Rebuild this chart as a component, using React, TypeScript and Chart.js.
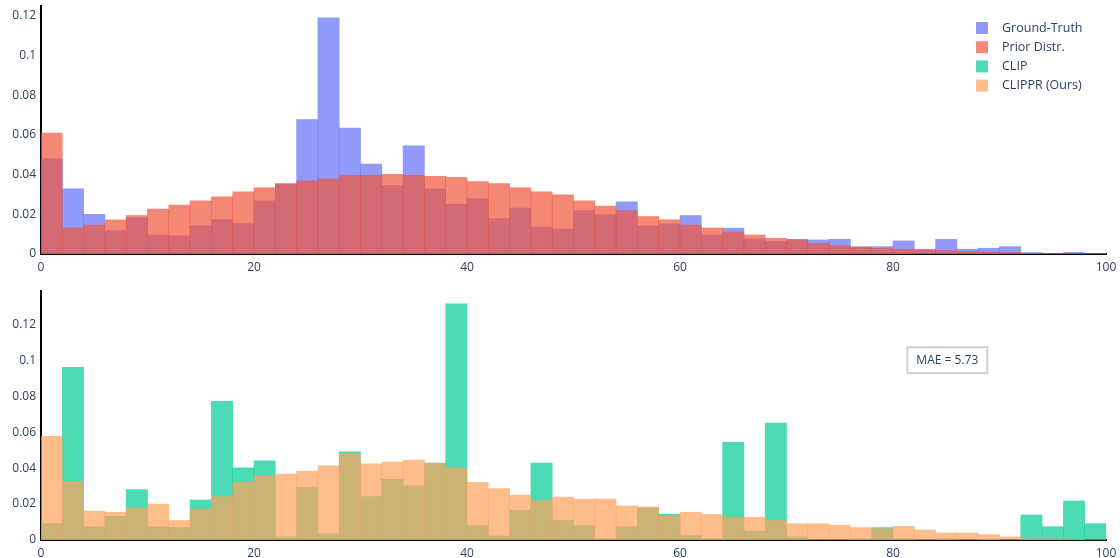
import { useEffect, useRef } from "react";
import { Chart, registerables } from "chart.js";

Chart.register(...registerables);

// Age bins (width 2), identified by their centres
const binCenters = [
  1, 3, 5, 7, 9, 11, 13, 15, 17, 19, 21, 23, 25, 27, 29, 31, 33, 35, 37, 39,
  41, 43, 45, 47, 49, 51, 53, 55, 57, 59, 61, 63, 65, 67, 69, 71, 73, 75, 77, 79,
  81, 83, 85, 87, 89, 91, 93, 95, 97, 99,
];

// Normalised frequencies per bin
const groundTruth = [
  0.048, 0.0328, 0.02, 0.0118, 0.0183, 0.0096, 0.0091, 0.0143, 0.0173, 0.0153,
  0.0268, 0.0352, 0.0677, 0.119, 0.0635, 0.0453, 0.0345, 0.0545, 0.0328, 0.0251,
  0.0278, 0.0178, 0.0231, 0.0136, 0.0126, 0.0219, 0.0199, 0.0263, 0.0141, 0.0152,
  0.0194, 0.0096, 0.013, 0.0076, 0.0064, 0.0074, 0.0071, 0.0074, 0.0037, 0.0037,
  0.0066, 0.0024, 0.0074, 0.0024, 0.0029, 0.0037, 0.0007, 0.0003, 0.0008, 0.0003,
];

const priorDistr = [
  0.0609, 0.0131, 0.0146, 0.0172, 0.0194, 0.0226, 0.0246, 0.0268, 0.0288, 0.0313,
  0.0333, 0.0355, 0.0369, 0.0379, 0.0396, 0.0396, 0.0402, 0.0396, 0.0391, 0.0386,
  0.0365, 0.0355, 0.0333, 0.0313, 0.0298, 0.0268, 0.0241, 0.0219, 0.0189, 0.0173,
  0.0146, 0.0131, 0.0111, 0.0096, 0.0079, 0.0071, 0.0054, 0.0042, 0.0034, 0.0029,
  0.0024, 0.002, 0.0017, 0.0013, 0.001, 0.0008, 0.0003, 0.0002, 0.0002, 0.0002,
];

const clipPred = [
  0.0091, 0.0961, 0.0074, 0.0132, 0.028, 0.0074, 0.0069, 0.0223, 0.0771, 0.0401,
  0.044, 0.0017, 0.0291, 0.0035, 0.0491, 0.0241, 0.0338, 0.0302, 0.0428, 0.1313,
  0.008, 0.0022, 0.0165, 0.0428, 0.0109, 0.008, 0.0006, 0.0074, 0.0178, 0.0143,
  0.0024, 0.0006, 0.0543, 0.005, 0.0651, 0.0017, 0, 0, 0.0006, 0.0069,
  0.0006, 0, 0.0006, 0, 0.0004, 0, 0.0139, 0.0074, 0.0217, 0.0091,
];

const clipprPred = [
  0.0577, 0.0325, 0.0161, 0.0154, 0.0178, 0.02, 0.0109, 0.0172, 0.0241, 0.0321,
  0.0354, 0.0367, 0.0384, 0.0412, 0.048, 0.0423, 0.0434, 0.0445, 0.0426, 0.0401,
  0.0321, 0.0286, 0.025, 0.0219, 0.0239, 0.0228, 0.0228, 0.0189, 0.0184, 0.0134,
  0.0154, 0.0143, 0.0126, 0.0126, 0.0109, 0.0091, 0.0091, 0.0082, 0.0069, 0.0063,
  0.0076, 0.0056, 0.0039, 0.0039, 0.003, 0.0017, 0.0006, 0.0006, 0.0004, 0,
];

const xTicks = [0, 20, 40, 60, 80, 100];
const yTicks = [0, 0.02, 0.04, 0.06, 0.08, 0.1, 0.12];

const seriesNames = ["Ground-Truth", "Prior Distr.", "CLIP", "CLIPPR (Ours)"];
const seriesColors = [
  "rgba(99,110,250,0.7)",
  "rgba(239,85,59,0.7)",
  "rgba(0,204,150,0.7)",
  "rgba(255,161,90,0.7)",
];

const maeText = "MAE = 5.73";
const maeAnchor = { x: 85.1, y: 0.1 };

const FONT = "'Open Sans', verdana, arial, sans-serif";
const TEXT_COLOR = "#2a3f5f";

Chart.defaults.font.family = FONT;
Chart.defaults.font.size = 12;
Chart.defaults.color = TEXT_COLOR;

function toPoints(values: number[]) {
  return binCenters.map((x, i) => ({ x, y: values[i] }));
}

function barSet(label: string, values: number[], color: string, order: number) {
  return {
    label,
    data: toPoints(values),
    backgroundColor: color,
    borderWidth: 0,
    barPercentage: 1,
    categoryPercentage: 1,
    grouped: false,
    order,
  };
}

function makeOptions(yMax: number, padTop: number, xAxisHeight: number): any {
  return {
    responsive: false,
    animation: false,
    layout: { padding: { left: 0, right: 14, top: padTop, bottom: 0 } },
    plugins: { legend: { display: false }, tooltip: { enabled: false } },
    scales: {
      x: {
        type: "linear",
        min: 0,
        max: 100,
        offset: false,
        z: 1,
        grid: { display: false, drawTicks: false },
        border: { display: true, color: "#000", width: 2 },
        ticks: { padding: 6, color: TEXT_COLOR, font: { size: 12 } },
        afterBuildTicks: (axis: any) => {
          axis.ticks = xTicks.map((v) => ({ value: v }));
        },
        afterFit: (axis: any) => {
          axis.height = xAxisHeight;
          axis.paddingLeft = 0;
          axis.paddingRight = 0;
        },
      },
      y: {
        min: 0,
        max: yMax,
        z: 1,
        grid: { display: false, drawTicks: false },
        border: { display: true, color: "#000", width: 2 },
        ticks: {
          padding: 5,
          color: TEXT_COLOR,
          font: { size: 12 },
          callback: (v: any) => String(Number(v)),
        },
        afterBuildTicks: (axis: any) => {
          axis.ticks = yTicks.map((v) => ({ value: v }));
        },
        afterFit: (axis: any) => {
          axis.width = 41;
          axis.paddingTop = 0;
          axis.paddingBottom = 0;
        },
      },
    },
  };
}

// Shared legend listing all four series, drawn in the upper panel
const legendPlugin = {
  id: "seriesLegend",
  afterDraw(chart: any) {
    const ctx = chart.ctx;
    ctx.save();
    ctx.font = `12.5px ${FONT}`;
    ctx.textBaseline = "middle";
    ctx.textAlign = "left";
    seriesNames.forEach((name, i) => {
      const cy = 28 + i * 19.2;
      ctx.fillStyle = seriesColors[i];
      ctx.fillRect(976, cy - 6, 12, 12);
      ctx.fillStyle = TEXT_COLOR;
      ctx.fillText(name, 1002, cy);
    });
    ctx.restore();
  },
};

// Boxed MAE annotation in the lower panel
const maePlugin = {
  id: "maeBox",
  afterDraw(chart: any) {
    const ctx = chart.ctx;
    const cx = chart.scales.x.getPixelForValue(maeAnchor.x);
    const cy = chart.scales.y.getPixelForValue(maeAnchor.y);
    ctx.save();
    ctx.font = `12px ${FONT}`;
    const w = ctx.measureText(maeText).width + 18;
    const h = 26;
    ctx.fillStyle = "#fff";
    ctx.fillRect(cx - w / 2, cy - h / 2, w, h);
    ctx.strokeStyle = "#d0d0d0";
    ctx.lineWidth = 2;
    ctx.strokeRect(cx - w / 2, cy - h / 2, w, h);
    ctx.fillStyle = TEXT_COLOR;
    ctx.textAlign = "center";
    ctx.textBaseline = "middle";
    ctx.fillText(maeText, cx, cy + 0.5);
    ctx.restore();
  },
};

export default function App() {
  const topRef = useRef<HTMLCanvasElement>(null);
  const bottomRef = useRef<HTMLCanvasElement>(null);

  useEffect(() => {
    const top = new Chart(topRef.current!, {
      type: "bar",
      data: {
        datasets: [
          barSet(seriesNames[0], groundTruth, seriesColors[0], 2),
          barSet(seriesNames[1], priorDistr, seriesColors[1], 1),
        ],
      } as any,
      options: makeOptions(0.125, 6, 28),
      plugins: [legendPlugin],
    });
    const bottom = new Chart(bottomRef.current!, {
      type: "bar",
      data: {
        datasets: [
          barSet(seriesNames[2], clipPred, seriesColors[2], 2),
          barSet(seriesNames[3], clipprPred, seriesColors[3], 1),
        ],
      } as any,
      options: makeOptions(0.1385, 11, 18),
      plugins: [maePlugin],
    });
    return () => {
      top.destroy();
      bottom.destroy();
    };
  }, []);

  return (
    <div
      style={{
        position: "absolute",
        left: 0,
        top: 0,
        width: 1120,
        height: 558,
        background: "#fff",
        overflow: "hidden",
      }}
    >
      <canvas
        ref={topRef}
        width={1120}
        height={282}
        style={{ position: "absolute", left: 0, top: 0, width: 1120, height: 282 }}
      />
      <canvas
        ref={bottomRef}
        width={1120}
        height={278}
        style={{ position: "absolute", left: 0, top: 280, width: 1120, height: 278 }}
      />
    </div>
  );
}
